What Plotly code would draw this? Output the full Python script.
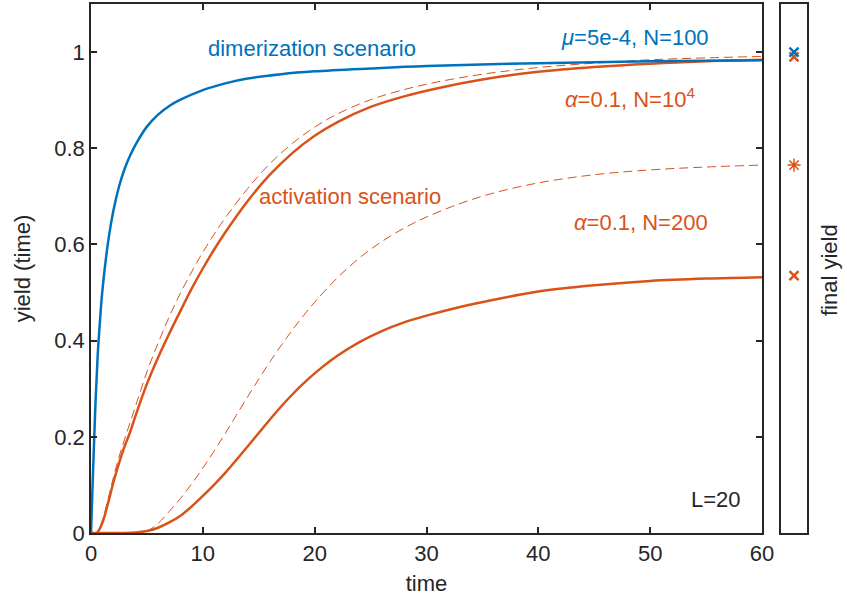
import plotly.graph_objects as go

BLUE = "#0072BD"
ORANGE = "#D95319"
AXC = "#262626"
FONT = "Liberation Sans, Arial, Helvetica, sans-serif"
FS = 22

# dimerization scenario (mu=5e-4, N=100)
t_dim = [0, 0.2, 0.4, 0.6, 0.8, 1, 1.5, 2, 2.5, 3, 3.5, 4, 5, 6, 7, 8, 10, 12, 14, 17, 20, 25, 30, 40, 50, 60]
y_dim = [0, 0.14, 0.27, 0.37, 0.44, 0.5, 0.6, 0.67, 0.72, 0.757, 0.785, 0.808, 0.845, 0.87, 0.888, 0.901,
         0.921, 0.935, 0.945, 0.954, 0.96, 0.966, 0.971, 0.977, 0.981, 0.983]

# activation scenario, alpha=0.1, N=1e4 (solid) and its dashed reference
t_a4 = [0, 0.5, 1, 1.5, 2, 2.5, 3, 3.5, 4, 5, 6, 7, 8, 9, 10, 11, 12, 14, 16, 18, 20, 22, 25, 28, 31, 35, 40, 45, 50, 55, 60]
y_a4 = [0, 0, 0.02, 0.06, 0.105, 0.145, 0.18, 0.21, 0.245, 0.31, 0.365, 0.415, 0.462, 0.508, 0.55, 0.589,
        0.625, 0.69, 0.745, 0.79, 0.826, 0.854, 0.886, 0.908, 0.925, 0.943, 0.959, 0.969, 0.976, 0.981, 0.984]
y_a4d = [0, 0, 0.025, 0.068, 0.115, 0.158, 0.195, 0.23, 0.265, 0.335, 0.395, 0.45, 0.499, 0.543, 0.584, 0.621,
         0.655, 0.716, 0.768, 0.81, 0.844, 0.871, 0.901, 0.922, 0.938, 0.954, 0.968, 0.977, 0.984, 0.988, 0.991]

# activation scenario, alpha=0.1, N=200 (solid) and its dashed reference
t_a2 = [0, 4, 5, 6, 7, 8, 9, 10, 11, 12, 13, 14, 15, 16, 17, 18, 19, 20, 22, 24, 26, 28, 30, 33, 36, 40, 45, 50, 55, 60]
y_a2 = [0, 0.001, 0.004, 0.011, 0.022, 0.036, 0.055, 0.077, 0.1, 0.125, 0.152, 0.18, 0.208, 0.236, 0.263,
        0.288, 0.311, 0.332, 0.368, 0.397, 0.42, 0.438, 0.452, 0.47, 0.485, 0.502, 0.515, 0.524, 0.529, 0.532]
y_a2d = [0, 0, 0.004, 0.02, 0.045, 0.072, 0.102, 0.135, 0.17, 0.207, 0.245, 0.283, 0.32, 0.356, 0.39, 0.422,
         0.452, 0.48, 0.53, 0.572, 0.606, 0.634, 0.657, 0.685, 0.707, 0.728, 0.745, 0.755, 0.761, 0.765]

# final yields (right panel)
final_blue = [1.0]
final_x_orange = [0.99, 0.535]
final_star_orange = [0.765]

x_ticks = [0, 10, 20, 30, 40, 50, 60]
y_ticks = [0, 0.2, 0.4, 0.6, 0.8, 1]
y_tick_text = ["0", "0.2", "0.4", "0.6", "0.8", "1"]

fig = go.Figure()
dash = "9px,5px"
fig.add_trace(go.Scatter(x=t_a4, y=y_a4d, mode="lines", line=dict(color=ORANGE, width=1, dash=dash, shape="spline")))
fig.add_trace(go.Scatter(x=t_a2, y=y_a2d, mode="lines", line=dict(color=ORANGE, width=1, dash=dash, shape="spline")))
fig.add_trace(go.Scatter(x=t_a2, y=y_a2, mode="lines", line=dict(color=ORANGE, width=2.5, shape="spline")))
fig.add_trace(go.Scatter(x=t_a4, y=y_a4, mode="lines", line=dict(color=ORANGE, width=2.5, shape="spline")))
fig.add_trace(go.Scatter(x=t_dim, y=y_dim, mode="lines", line=dict(color=BLUE, width=2.5, shape="spline")))

# right panel
fig.add_trace(go.Scatter(x=[1] * len(final_x_orange), y=final_x_orange, mode="markers", xaxis="x2", yaxis="y2",
                         marker=dict(symbol="x-thin", size=9, line=dict(color=ORANGE, width=2.5))))
fig.add_trace(go.Scatter(x=[1], y=final_star_orange, mode="markers", xaxis="x2", yaxis="y2",
                         marker=dict(symbol="asterisk", size=11, line=dict(color=ORANGE, width=1.5))))
fig.add_trace(go.Scatter(x=[1], y=final_blue, mode="markers", xaxis="x2", yaxis="y2",
                         marker=dict(symbol="x-thin", size=9, line=dict(color=BLUE, width=2.5))))

ML, MR, MT, MB = 91, 40, 4, 69
PW = 847 - ML - MR
PH = 602 - MT - MB
axis_common = dict(showline=True, linecolor=AXC, linewidth=1.5, mirror="ticks", ticks="inside",
                   ticklen=6, tickwidth=1.5, tickcolor=AXC, showgrid=False, zeroline=False, automargin=False,
                   tickfont=dict(family=FONT, size=FS, color=AXC))

fig.update_layout(
    width=847, height=602,
    margin=dict(l=ML, r=MR, t=MT, b=MB),
    paper_bgcolor="white", plot_bgcolor="white",
    showlegend=False,
    font=dict(family=FONT, color=AXC),
    xaxis=dict(domain=[0, (762 - ML) / PW], range=[0, 60], tickvals=x_ticks,
               title=dict(text="time", font=dict(family=FONT, size=FS, color=AXC), standoff=10), **axis_common),
    yaxis=dict(domain=[0, 1], range=[0, 1.1], tickvals=y_ticks, ticktext=y_tick_text,
               title=dict(text="yield (time)", font=dict(family=FONT, size=FS, color=AXC), standoff=18), **axis_common),
    xaxis2=dict(domain=[(781 - ML) / PW, 1], range=[0, 2], anchor="y2", showline=True, linecolor=AXC,
                linewidth=1.5, mirror=True, showticklabels=False, ticks="", showgrid=False, zeroline=False,
                automargin=False),
    yaxis2=dict(domain=[0, 1], range=[0, 1.1], anchor="x2", showline=True, linecolor=AXC, linewidth=1.5,
                mirror=True, showticklabels=False, ticks="", showgrid=False, zeroline=False, automargin=False),
)

ann = [
    dict(x=19.76, y=1.008, text="dimerization scenario", color=BLUE),
    dict(x=48.6, y=1.031, text="<i>μ</i>=5e-4, N=100", color=BLUE),
    dict(x=48.2, y=0.905, text="<i>α</i>=0.1, N=10<sup>4</sup>", color=ORANGE),
    dict(x=23.2, y=0.699, text="activation scenario", color=ORANGE),
    dict(x=49.2, y=0.645, text="<i>α</i>=0.1, N=200", color=ORANGE),
    dict(x=55.9, y=0.069, text="L=20", color=AXC),
]
for a in ann:
    fig.add_annotation(x=a["x"], y=a["y"], xref="x", yref="y", text=a["text"], showarrow=False,
                       font=dict(family=FONT, size=FS, color=a["color"]))

fig.add_annotation(x=(829 - ML) / PW, y=(602 - MB - 270) / PH, xref="paper", yref="paper", text="final yield",
                   textangle=-90, showarrow=False, xanchor="center", yanchor="middle",
                   font=dict(family=FONT, size=FS, color=AXC))

fig.write_html("out.html", config={"displayModeBar": False},
               post_script="document.body.style.margin='0px';document.body.style.padding='0px';")
